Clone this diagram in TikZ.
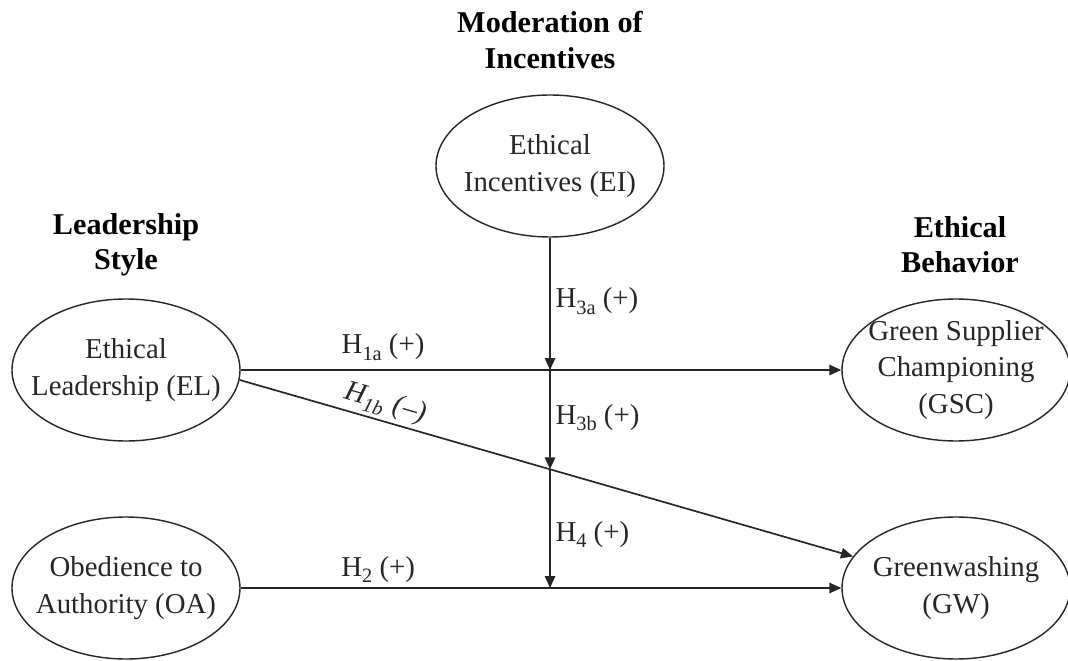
\documentclass[tikz,border=0pt]{standalone}
\usepackage{fontspec}
\setmainfont{Liberation Serif}
\usetikzlibrary{positioning,shapes.geometric,arrows.meta,intersections}

\newcommand{\hsub}[1]{\raisebox{-0.22em}{\fontsize{14.5}{14.5}\selectfont #1}}

\begin{document}
\begin{tikzpicture}[
    every node/.style={font=\fontsize{20.5}{26}\selectfont, align=center, text=black!85},
    construct/.style={ellipse, draw=black!85, line width=1pt, minimum width=5.7cm, minimum height=3.55cm, inner xsep=-0.5cm, inner ysep=0pt},
    head/.style={font=\fontsize{21.5}{25}\selectfont\bfseries, text=black},
    hypit/.style={font=\fontsize{20.5}{26}\selectfont\itshape},
    arr/.style={-{Triangle[length=0.3cm,width=0.26cm]}, line width=1.2pt, black!85}
]
\useasboundingbox (0,0) rectangle (26.7,16.5);

% Group headings
\node[head] (modhead) at (13.75, 15.5) {Moderation of\\Incentives};
\node[head] (leadhead) at (3.15, 10.375) {Leadership\\Style};
\node[head] (behhead) at (24.0, 10.375) {Ethical\\Behavior};

% Constructs
\node[construct] (EI) at (13.75, 12.35) {Ethical\\Incentives (EI)};
\node[construct] (EL) at (3.15, 7.25) {Ethical\\Leadership (EL)};
\node[construct] (OA) at (3.15, 1.8) {Obedience to\\Authority (OA)};
\node[construct] (GSC) at (23.9, 7.25) {Green Supplier\\Championing\\(GSC)};
\node[construct] (GW) at (23.9, 1.8) {Greenwashing\\(GW)};

% Points where the moderation line meets the paths
\path[name path=h1bline] (EL.-5) -- (GW.163);
\path[name path=eiline] (EI.south) -- (EI.south |- OA.east);
\path[name intersections={of=h1bline and eiline, by=m2}];
\coordinate (m1) at (EI.south |- EL.east);
\coordinate (m3) at (EI.south |- OA.east);

% Direct effects
\draw[arr] (EL.east) -- node[above=3pt, pos=.237] (h1a) {H\hsub{1a} (+)} (GSC.west);
\draw[arr] (EL.-5) -- node[hypit, above=-1pt, sloped, pos=.23] (h1b) {H\hsub{1b}\,\,(--)} (GW.163);
\draw[arr] (OA.east) -- node[above=0pt, pos=.229] (h2) {H\hsub{2} (+)} (GW.west);

% Moderation
\draw[arr] (EI.south) -- node[right, pos=.48] (h3a) {H\hsub{3a} (+)} (m1);
\draw[arr] (m1) -- node[right, pos=.48] (h3b) {H\hsub{3b} (+)} (m2);
\draw[arr] (m2) -- node[right, pos=.55] (h4) {H\hsub{4} (+)} (m3);
\end{tikzpicture}
\end{document}
